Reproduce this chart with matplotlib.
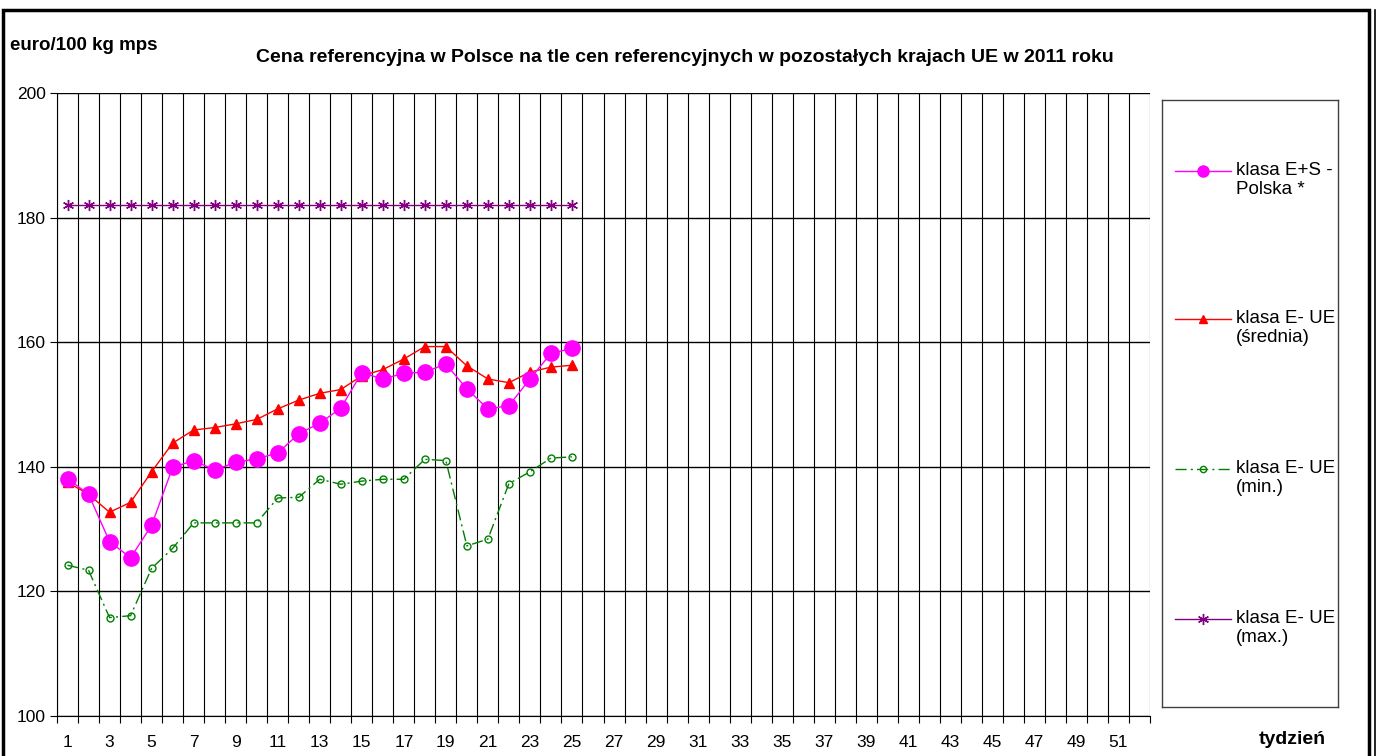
import matplotlib
matplotlib.use("Agg")
import matplotlib.pyplot as plt
from matplotlib.patches import Rectangle
from matplotlib.lines import Line2D
import numpy as np

plt.rcParams['font.family'] = ['Liberation Sans', 'DejaVu Sans']

weeks = list(range(1, 26))
polska = [138.1, 135.6, 128.0, 125.4, 130.6, 139.9, 141.0, 139.5, 140.7, 141.3,
          142.2, 145.3, 147.0, 149.4, 155.1, 154.1, 155.0, 155.2, 156.5, 152.5,
          149.3, 149.8, 154.1, 158.2, 159.0]
ue_avg = [137.5, 135.6, 132.7, 134.3, 139.2, 143.8, 145.9, 146.3, 146.9, 147.6,
          149.3, 150.7, 151.8, 152.4, 154.6, 155.6, 157.3, 159.3, 159.3, 156.2,
          154.1, 153.5, 155.2, 156.0, 156.3]
ue_min = [124.2, 123.4, 115.8, 116.1, 123.7, 126.9, 131.0, 131.0, 131.0, 131.0,
          135.0, 135.1, 138.0, 137.2, 137.7, 138.0, 138.0, 141.2, 141.0, 127.3,
          128.4, 137.3, 139.2, 141.4, 141.6]
ue_max = [182.0] * 25

labels = ["klasa E+S -\nPolska *", "klasa E- UE\n(średnia)",
          "klasa E- UE\n(min.)", "klasa E- UE\n(max.)"]
x_tick_labels = [str(i) for i in range(1, 52, 2)]
y_ticks = [100, 120, 140, 160, 180, 200]

W, H = 1380, 756
fig = plt.figure(figsize=(W / 100, H / 100), dpi=100)

L, R, T, B = 57, 1150, 93, 716
ax = fig.add_axes([L / W, 1 - B / H, (R - L) / W, (B - T) / H])
ax.set_xlim(0.5, 52.5)
ax.set_ylim(100, 200)

# grid
for xb in np.arange(0.5, 53.0, 1.0):
    ax.axvline(xb, color='black', lw=0.8, zorder=1)
for yv in y_ticks:
    ax.axhline(yv, color='black', lw=1.0, zorder=1)

styles = [
    dict(color='#FF00FF', lw=1.0, marker='o', ms=11, mfc='#FF00FF', mec='#FF00FF', ls='-'),
    dict(color='#FF0000', lw=1.0, marker='^', ms=7.5, mfc='#FF0000', mec='#FF0000', ls='-'),
    dict(color='#008000', lw=1.0, marker='o', ms=5, mfc='none', mec='#008000', mew=1.0,
         ls=(0, (8, 3, 1.5, 3))),
    dict(color='#800080', lw=1.0, marker=(6, 2, 0), ms=8, mec='#800080', mew=1.0, ls='-'),
]
legend_ms = [8, 6, 4.5, 8]
series = [polska, ue_avg, ue_min, ue_max]
order = [3, 2, 1, 0]
for i in order:
    ax.plot(weeks, series[i], zorder=3 + (3 - i), clip_on=False, **styles[i])

for s in ['top', 'right']:
    ax.spines[s].set_visible(False)
ax.spines['left'].set_color('black')
ax.spines['bottom'].set_color('black')

ax.set_yticks(y_ticks)
ax.set_yticklabels([str(v) for v in y_ticks], fontsize=12.5)
ax.tick_params(axis='y', direction='out', length=5, width=0.8, pad=3)

ax.set_xticks(np.arange(0.5, 53.0, 1.0))
ax.set_xticklabels([])
ax.tick_params(axis='x', which='major', direction='out', length=5, width=0.8)
ax.set_xticks(list(range(1, 52, 2)), minor=True)
ax.set_xticklabels(x_tick_labels, minor=True, fontsize=12.5)
ax.tick_params(axis='x', which='minor', length=0, pad=14)

# texts
fig.text(10 / W, 1 - 45 / H, "euro/100 kg mps", fontsize=13.5, fontweight='bold',
         ha='left', va='center')
fig.text(685 / W, 1 - 57 / H,
         "Cena referencyjna w Polsce na tle cen referencyjnych w pozostałych krajach UE w 2011 roku",
         fontsize=14, fontweight='bold', ha='center', va='center')
fig.text(1292 / W, 1 - 740 / H, "tydzień", fontsize=14, fontweight='bold',
         ha='center', va='center')

# legend box
lx0, lx1, ly0, ly1 = 1162, 1338, 100, 707
lax = fig.add_axes([lx0 / W, 1 - ly1 / H, (lx1 - lx0) / W, (ly1 - ly0) / H])
lax.set_xlim(lx0, lx1)
lax.set_ylim(ly1, ly0)
lax.set_xticks([])
lax.set_yticks([])
for s in lax.spines.values():
    s.set_color('#404040')
    s.set_linewidth(1.0)
entry_y = [180, 328, 478, 628]
for i, yy in enumerate(entry_y):
    st = dict(styles[i])
    st['ms'] = legend_ms[i]
    lax.plot([1175, 1203, 1231], [yy - 9, yy - 9, yy - 9], markevery=[1], **st)
    lax.text(1236, yy, labels[i], fontsize=13.5, ha='left', va='center', linespacing=1.2)

# outer frame
fig.patches.append(Rectangle((3 / W, -0.02), (1369 - 3) / W, 1.02 - 10 / H,
                             transform=fig.transFigure, fill=False, lw=2.5,
                             edgecolor='black'))
fig.lines.append(Line2D([1375 / W, 1375 / W], [0, 1 - 10 / H], transform=fig.transFigure,
                        color='black', lw=1.2))

fig.savefig("out.png", dpi=100)
